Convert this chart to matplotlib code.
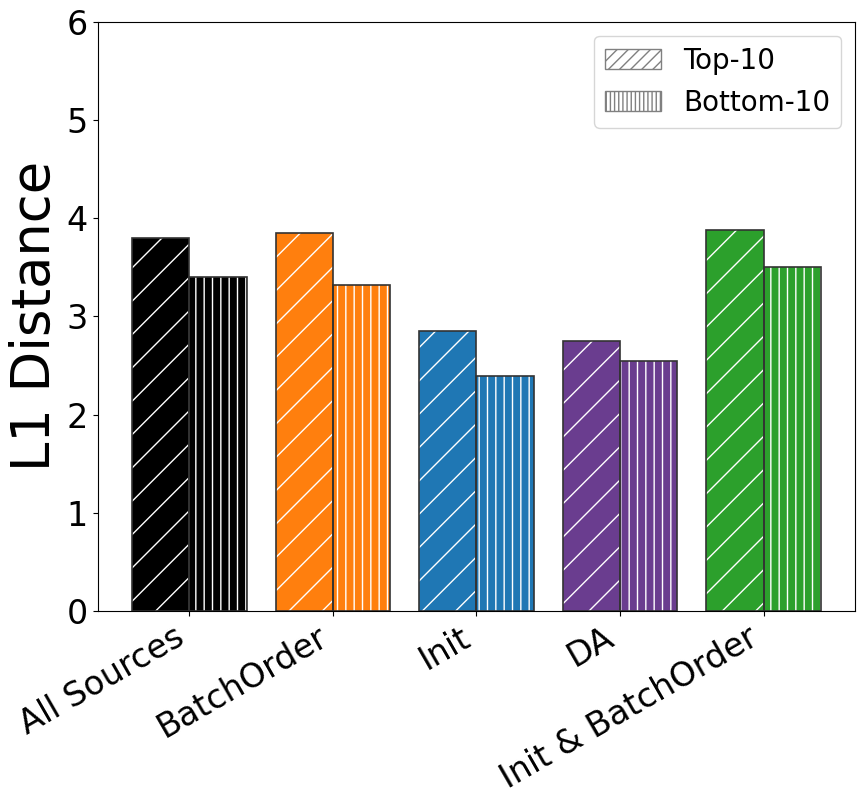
import matplotlib.pyplot as plt
import matplotlib.patches as mpatches
import numpy as np

groups = ["All Sources", "BatchOrder", "Init", "DA", "Init & BatchOrder"]
top10 = [3.80, 3.85, 2.85, 2.75, 3.88]
bottom10 = [3.40, 3.32, 2.39, 2.55, 3.50]
colors = ["black", "#ff7f0e", "#1f77b4", "#6a3d8f", "#2ca02c"]

fig = plt.figure(figsize=(8.64, 8.07), dpi=100)
ax = fig.add_axes([0.113, 0.243, 0.877, 0.730])

x = np.arange(len(groups))
w = 0.4

# hatch drawn in white, then dark outline on top
ax.bar(x - w / 2, top10, w, color=colors, edgecolor="white", hatch="/", linewidth=0)
ax.bar(x + w / 2, bottom10, w, color=colors, edgecolor="white", hatch="||", linewidth=0)
ax.bar(x - w / 2, top10, w, fill=False, edgecolor="#333333", linewidth=1.2)
ax.bar(x + w / 2, bottom10, w, fill=False, edgecolor="#333333", linewidth=1.2)

ax.set_ylim(0, 6)
ax.set_xticks(x)
ax.set_xticklabels(groups, rotation=30, ha="right", fontsize=24)
ax.tick_params(axis="y", labelsize=24)
ax.set_ylabel("L1 Distance", fontsize=38)

handles = [
    mpatches.Patch(facecolor="white", edgecolor="gray", hatch="///", label="Top-10"),
    mpatches.Patch(facecolor="white", edgecolor="gray", hatch="||||", label="Bottom-10"),
]
ax.legend(handles=handles, fontsize=20, loc="upper right")

fig.savefig("out.png", dpi=100)
